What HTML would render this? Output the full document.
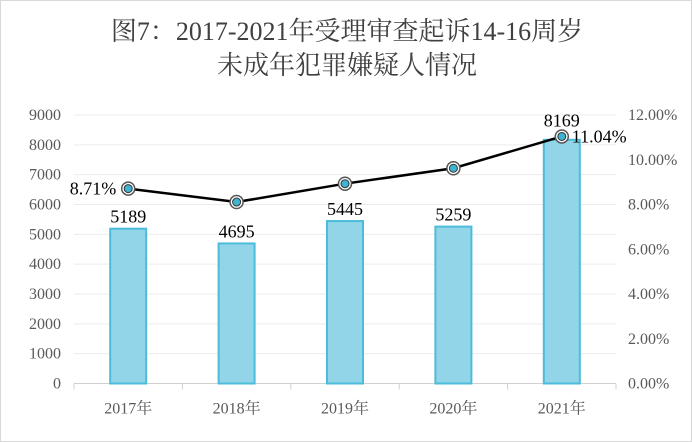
<!DOCTYPE html>
<html><head><meta charset="utf-8"><style>
html,body{margin:0;padding:0;background:#fff}
#wrap{position:relative;width:690px;height:440px;border:1px solid #d9d9d9;overflow:hidden}
svg text{font-family:"Liberation Serif","Noto Serif CJK SC",serif}
</style></head><body>
<div id="wrap">
<svg id="chart" width="692" height="442">
<text x="346" y="39" text-anchor="middle" font-size="26" fill="#404040">图7：2017-2021年受理审查起诉14-16周岁</text>
<text x="346" y="73" text-anchor="middle" font-size="26" fill="#404040">未成年犯罪嫌疑人情况</text>
</svg>
</div>
<script>
const categories=["2017年","2018年","2019年","2020年","2021年"];
const counts=[5189,4695,5445,5259,8169];
const rates=[8.71,8.11,8.93,9.62,11.04];
const leftTicks=[0,1000,2000,3000,4000,5000,6000,7000,8000,9000];
const rightTicks=["0.00%","2.00%","4.00%","6.00%","8.00%","10.00%","12.00%"];
const rateLabels=["8.71%","","","","11.04%"];

const svg=document.getElementById('chart');
const NS='http://www.w3.org/2000/svg';
const x0=73,x1=615,yB=382.5,yT=114;
const yL=v=>yB-(v/9000)*(yB-yT);
const yR=v=>yB-(v/12)*(yB-yT);
const step=(x1-x0)/categories.length;
const xc=i=>x0+step*(i+0.5);
function mk(t,a){const e=document.createElementNS(NS,t);for(const k in a)e.setAttribute(k,a[k]);svg.appendChild(e);return e;}

leftTicks.forEach((v,i)=>{
  if(v>0){const g=mk('line',{x1:x0,x2:x1,y1:yL(v),y2:yL(v),stroke:'#ececec','stroke-width':1});
  
  }
  const t=mk('text',{x:60,y:yL(v)+5,'text-anchor':'end','font-size':16,fill:'#595959'});
  t.textContent=v;
  
  
});
rightTicks.forEach((s,i)=>{
  const t=mk('text',{x:627,y:yR(i*2)+5,'font-size':16,fill:'#595959'});
  t.textContent=s;
  
  
});
const ax=mk('line',{x1:x0,x2:x1,y1:yB,y2:yB,stroke:'#d0d0d0','stroke-width':1});


for(let i=0;i<=categories.length;i++){
  const tk=mk('line',{x1:x0+step*i,x2:x0+step*i,y1:yB,y2:yB+6,stroke:'#d0d0d0'});
  
  
}
categories.forEach((c,i)=>{
  const t=mk('text',{x:xc(i),y:yB+30,'text-anchor':'middle','font-size':16,fill:'#595959'});
  t.textContent=c;
  
  
});
const bw=36;
counts.forEach((v,i)=>{
  const r=mk('rect',{x:xc(i)-bw/2,y:yL(v),width:bw,height:yB-yL(v),fill:'#92d5e8',stroke:'#4bbcd9','stroke-width':2});
  
  
  let ly=yL(v)-6;
  if(Math.abs(yL(v)-yR(rates[i]))<20) ly=Math.min(yL(v),yR(rates[i]))-10;
  const t=mk('text',{x:xc(i),y:ly,'text-anchor':'middle','font-size':18,fill:'#000'});
  t.textContent=v;
  
  
});
const pts=rates.map((v,i)=>xc(i)+','+yR(v)).join(' ');
const pl=mk('polyline',{points:pts,fill:'none',stroke:'#000','stroke-width':2.5});


rates.forEach((v,i)=>{
  const o=mk('circle',{cx:xc(i),cy:yR(v),r:6.5,fill:'#fff',stroke:'#555','stroke-width':1.5});
  
  
  const c=mk('circle',{cx:xc(i),cy:yR(v),r:4,fill:'#3fb3d2',stroke:'#333','stroke-width':1});
  
  
  if(rateLabels[i]){
    const left=i===0;
    const t=mk('text',{x:left?xc(i)-12:xc(i)+10,y:yR(v)+6,'text-anchor':left?'end':'start','font-size':18,fill:'#000'});
    t.textContent=rateLabels[i];
    
    
  }
});
</script>
</body></html>
